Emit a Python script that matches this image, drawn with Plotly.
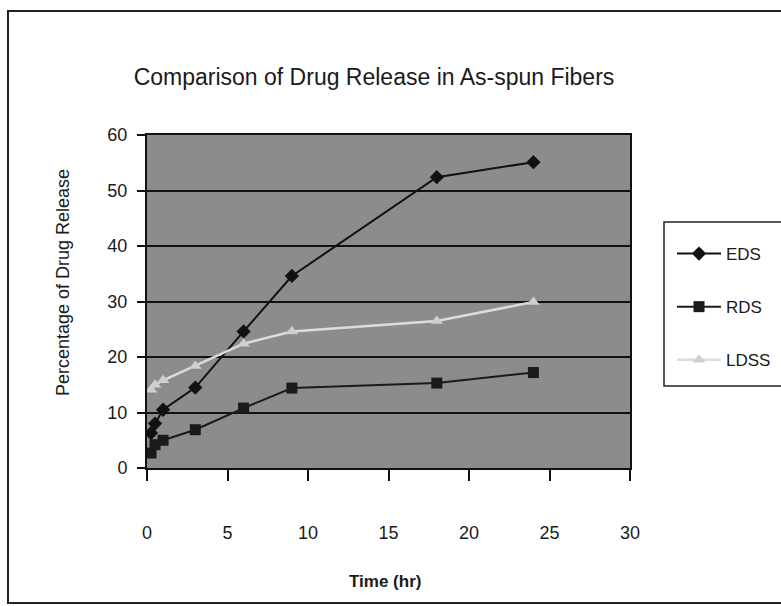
import plotly.graph_objects as go

# Sampling times (hours)
time_hr = [0.25, 0.5, 1, 3, 6, 9, 18, 24]

# Cumulative drug release (%) for each fiber formulation
eds = [6.3, 8.0, 10.5, 14.5, 24.6, 34.6, 52.4, 55.1]
rds = [2.7, 4.2, 5.0, 6.9, 10.8, 14.4, 15.3, 17.2]
ldss = [14.1, 15.0, 15.8, 18.4, 22.4, 24.6, 26.5, 29.9]

x_ticks = [0, 5, 10, 15, 20, 25, 30]
y_ticks = [0, 10, 20, 30, 40, 50, 60]

FONT = "Liberation Sans, Arial, sans-serif"

fig = go.Figure()

fig.add_trace(go.Scatter(
    x=time_hr, y=eds, name="EDS", mode="lines+markers", legendgroup="a",
    line=dict(color="#111111", width=2),
    marker=dict(symbol="diamond", size=11, color="#111111"),
))
fig.add_trace(go.Scatter(
    x=time_hr, y=rds, name="RDS", mode="lines+markers", legendgroup="b",
    line=dict(color="#1a1a1a", width=2),
    marker=dict(symbol="square", size=11, color="#1a1a1a"),
))
fig.add_trace(go.Scatter(
    x=time_hr, y=ldss, name="LDSS", mode="lines+markers", legendgroup="c",
    line=dict(color="#dcdcdc", width=2.5),
    marker=dict(symbol="triangle-up", size=11, color="#cfcfcf"),
))

W, H = 781, 606
L, R, T, B = 147, 151, 135, 138
pw, ph = W - L - R, H - T - B


def px(xp):
    return (xp - L) / pw


def py(yp):
    return 1 - (yp - T) / ph


fig.update_layout(
    width=W, height=H,
    margin=dict(l=L, r=R, t=T, b=B, autoexpand=False),
    paper_bgcolor="white",
    plot_bgcolor="#8c8c8a",
    font=dict(family=FONT, color="#1a1a1a", size=16),
    title=dict(
        text="Comparison of Drug Release in As-spun Fibers",
        font=dict(size=23, family=FONT, color="#1a1a1a"),
        xref="paper", x=px(374), xanchor="center",
        yref="container", y=1 - 77 / H, yanchor="middle",
    ),
    showlegend=True,
    legend=dict(
        x=px(672), y=py(236), xanchor="left", yanchor="top",
        bgcolor="rgba(0,0,0,0)", borderwidth=0,
        font=dict(size=17, family=FONT, color="#1a1a1a"),
        tracegroupgap=28, itemwidth=44,
    ),
    xaxis=dict(
        range=[0, 30], tickvals=x_ticks, ticktext=[str(v) for v in x_ticks],
        showgrid=False, zeroline=False,
        showline=True, linecolor="#111111", linewidth=2, mirror=True,
        ticks="outside", ticklen=11, tickwidth=1.5, tickcolor="#111111",
        ticklabelstandoff=36,
        tickfont=dict(size=18, family=FONT, color="#1a1a1a"),
    ),
    yaxis=dict(
        range=[0, 60], tickvals=y_ticks, ticktext=[str(v) for v in y_ticks],
        showgrid=True, gridcolor="#111111", gridwidth=1.5, zeroline=False,
        showline=True, linecolor="#111111", linewidth=2, mirror=True,
        ticks="outside", ticklen=8, tickwidth=1.5, tickcolor="#111111",
        ticklabelstandoff=6,
        tickfont=dict(size=18, family=FONT, color="#1a1a1a"),
    ),
    annotations=[
        dict(text="Percentage of Drug Release", textangle=-90,
             xref="paper", yref="paper", x=px(63), y=py(283),
             xanchor="center", yanchor="middle", showarrow=False,
             font=dict(size=18, family=FONT, color="#1a1a1a")),
        dict(text="<b>Time (hr)</b>",
             xref="paper", yref="paper", x=px(385), y=py(581),
             xanchor="center", yanchor="middle", showarrow=False,
             font=dict(size=17, family=FONT, color="#1a1a1a")),
    ],
    shapes=[
        # outer chart frame
        dict(type="rect", xref="paper", yref="paper",
             x0=px(8), x1=px(800), y0=py(603), y1=py(11),
             line=dict(color="#222222", width=2), layer="below"),
        # legend box
        dict(type="rect", xref="paper", yref="paper",
             x0=px(664), x1=px(800), y0=py(386), y1=py(222),
             line=dict(color="#222222", width=1.5)),
    ],
)

fig.write_html("out.html")
